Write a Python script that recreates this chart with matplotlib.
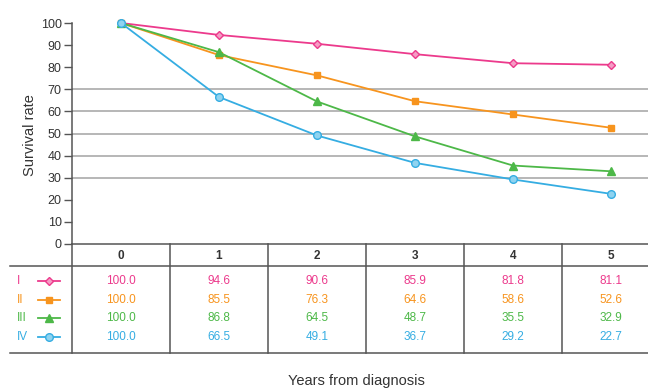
import matplotlib
matplotlib.use("Agg")
import matplotlib.pyplot as plt

# ── Data ──────────────────────────────────────────────────────────────────────
years = [0, 1, 2, 3, 4, 5]
stages = ["I", "II", "III", "IV"]
stage_i = [100.0, 94.6, 90.6, 85.9, 81.8, 81.1]
stage_ii = [100.0, 85.5, 76.3, 64.6, 58.6, 52.6]
stage_iii = [100.0, 86.8, 64.5, 48.7, 35.5, 32.9]
stage_iv = [100.0, 66.5, 49.1, 36.7, 29.2, 22.7]
series = [stage_i, stage_ii, stage_iii, stage_iv]
grid_levels = [30, 40, 50, 60, 70]
y_ticks = list(range(0, 101, 10))

# ── Style ─────────────────────────────────────────────────────────────────────
COLORS = ["#ec3a8c", "#f7941e", "#4db848", "#35ade2"]
FACES = ["#f59cc4", "#f7941e", "#4db848", "#8fd3f0"]
MARKERS = ["D", "s", "^", "o"]
MSIZE = [4.5, 5, 6, 5.5]
TXT = "#333333"
LINE = "#555555"

plt.rcParams["font.family"] = ["Liberation Sans", "DejaVu Sans"]

W, H = 648, 388
COL = 98.0          # pixels per year column
X0 = 72             # left spine pixel


def px2x(px):
    return -0.5 + (px - X0) / COL


fig = plt.figure(figsize=(W / 100, H / 100), dpi=100)

# ── Chart ─────────────────────────────────────────────────────────────────────
ax = fig.add_axes([X0 / W, 1 - 244 / H, (W - X0) / W, (244 - 23) / H])
ax.set_xlim(-0.5, px2x(W))
ax.set_ylim(0, 100)

for lv in grid_levels:
    ax.axhline(lv, color="#aaaaaa", lw=1.2, zorder=1)

for vals, c, fc, m, ms in zip(series, COLORS, FACES, MARKERS, MSIZE):
    ax.plot(years, vals, color=c, lw=1.3, marker=m, ms=ms, mfc=fc, mec=c,
            mew=1.0, zorder=3, clip_on=False)

ax.set_yticks(y_ticks)
ax.set_xticks([])
ax.tick_params(axis="y", length=6, width=1.0, color=LINE, labelsize=9,
               labelcolor=TXT, pad=1.5)
for s in ["top", "right"]:
    ax.spines[s].set_visible(False)
ax.spines["left"].set_color(LINE)
ax.spines["bottom"].set_color(LINE)
ax.spines["left"].set_linewidth(1.1)
ax.spines["bottom"].set_linewidth(1.1)

# ── Table ─────────────────────────────────────────────────────────────────────
tax = fig.add_axes([0, 1 - 353 / H, 1, (353 - 244) / H])
tax.set_xlim(px2x(0), px2x(W))
tax.set_ylim(109, 0)
tax.axis("off")

tax.plot([px2x(10), px2x(W)], [22, 22], color=LINE, lw=1.1, clip_on=False)
tax.plot([px2x(10), px2x(W)], [109, 109], color=LINE, lw=1.1, clip_on=False)
for k in range(len(years)):
    tax.plot([k - 0.5, k - 0.5], [0, 109], color=LINE, lw=1.1, clip_on=False)

for yr in years:
    tax.text(yr, 12, str(yr), ha="center", va="center", fontsize=8.5,
             fontweight="bold", color=TXT)

row_y = [37, 56, 74, 93]
for name, vals, c, fc, m, ms, ry in zip(stages, series, COLORS, FACES,
                                         MARKERS, MSIZE, row_y):
    tax.text(px2x(17), ry, name, ha="left", va="center", fontsize=8.5, color=c)
    tax.plot([px2x(38), px2x(60)], [ry, ry], color=c, lw=1.3, clip_on=False)
    tax.plot([px2x(49)], [ry], marker=m, ms=ms, mfc=fc, mec=c, mew=1.0,
             clip_on=False)
    for yr, v in zip(years, vals):
        tax.text(yr, ry, f"{v:.1f}", ha="center", va="center", fontsize=8.5,
                 color=c)

# ── Axis titles ───────────────────────────────────────────────────────────────
fig.text(30 / W, 1 - 135 / H, "Survival rate", rotation=90, ha="center",
         va="center", fontsize=10.5, color=TXT)
fig.text(356 / W, 1 - 381 / H, "Years from diagnosis", ha="center",
         va="center", fontsize=10.5, color=TXT)

fig.savefig("out.png", dpi=100, facecolor="white")
